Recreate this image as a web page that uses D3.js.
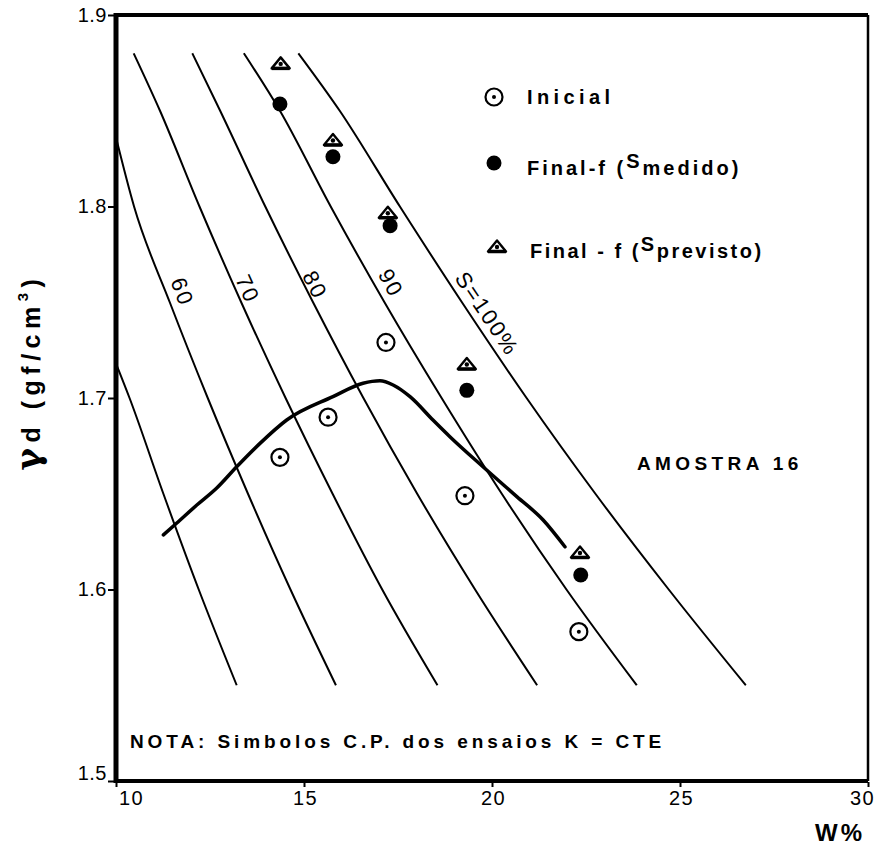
<!DOCTYPE html>
<html>
<head>
<meta charset="utf-8">
<script src="https://cdn.jsdelivr.net/npm/d3@7"></script>
<style>
  html, body { margin: 0; padding: 0; background: #fff; }
  svg { display: block; }
  text { font-family: "Liberation Sans", Arial, sans-serif; font-weight: bold; fill: #000; }
</style>
</head>
<body>
<svg id="chart" width="887" height="849"></svg>
<script>
// ---- Data ----
const xTicks = [10, 15, 20, 25, 30];
const yTicks = [1.5, 1.6, 1.7, 1.8, 1.9];

// Saturation curves: [w %, gamma_d]
const sat50  = [[10.0, 1.718], [10.36, 1.70], [11.26, 1.65], [12.20, 1.60], [13.21, 1.55]];
const sat60  = [[10.0, 1.836], [10.48, 1.80], [11.43, 1.75], [12.44, 1.70], [13.51, 1.65], [14.64, 1.60], [15.85, 1.55]];
const sat70  = [[10.47, 1.88], [11.17, 1.85], [12.22, 1.80], [13.33, 1.75], [14.51, 1.70], [15.76, 1.65], [17.08, 1.60], [18.55, 1.55]];
const sat80  = [[12.03, 1.88], [12.77, 1.85], [13.97, 1.80], [15.24, 1.75], [16.58, 1.70], [18.01, 1.65], [19.55, 1.60], [21.2, 1.55]];
const sat90  = [[13.40, 1.88], [14.36, 1.85], [15.71, 1.80], [17.14, 1.75], [18.66, 1.70], [20.26, 1.65], [21.98, 1.60], [23.85, 1.55]];
const sat100 = [[14.85, 1.88], [15.95, 1.85], [17.55, 1.80], [19.20, 1.75], [20.92, 1.70], [22.75, 1.65], [24.70, 1.60], [26.75, 1.55]];

// Curve labels: [text, w, gamma, rotation deg]
const curveLabels = [
  ["60", 11.76, 1.7554, 70],
  ["70", 13.50, 1.7570, 66],
  ["80", 15.29, 1.7590, 63],
  ["90", 17.31, 1.7600, 61],
  ["S=100%", 19.87, 1.7440, 56]
];

// Compaction curve (thick line)
const compW = [11.26, 11.61, 12.15, 12.68, 13.21, 13.83, 14.54, 15.77, 16.57, 17.02, 17.37, 17.82, 18.43, 18.88, 19.76, 20.66, 21.36, 21.94];
const compG = [1.6285, 1.6346, 1.6441, 1.6530, 1.6641, 1.6763, 1.6885, 1.7007, 1.7077, 1.7090, 1.7068, 1.7007, 1.6885, 1.6798, 1.6641, 1.6485, 1.6363, 1.6223];

// Points
const inicialW  = [14.36, 15.64, 17.18, 19.28, 22.31];
const inicialG  = [1.669, 1.690, 1.729, 1.649, 1.578];
const medidoW   = [14.36, 15.77, 17.29, 19.33, 22.36];
const medidoG   = [1.8535, 1.826, 1.790, 1.704, 1.6076];
const previstoW = [14.38, 15.77, 17.23, 19.33, 22.34];
const previstoG = [1.875, 1.835, 1.797, 1.718, 1.6196];

// ---- Chart ----
const svg = d3.select("#chart");
const L = 116, R = 868, T = 15, B = 781;
const x = d3.scaleLinear().domain([10, 30]).range([L, R]);
const y = d3.scaleLinear().domain([1.5, 1.9]).range([B, T]);

// Saturation curves
const line = d3.line().x(d => x(d[0])).y(d => y(d[1])).curve(d3.curveMonotoneX);
[sat50, sat60, sat70, sat80, sat90, sat100].forEach(c => {
  svg.append("path").attr("d", line(c)).attr("fill", "none")
    .attr("stroke", "#000").attr("stroke-width", 2);
});

// Curve labels
curveLabels.forEach(([t, w, g, r]) => {
  svg.append("text")
    .attr("transform", `translate(${x(w)},${y(g)}) rotate(${r})`)
    .attr("text-anchor", "middle").attr("dominant-baseline", "central")
    .attr("font-size", 22).style("font-weight", "normal")
    .attr("letter-spacing", 2)
    .text(t);
});

// Compaction curve
const comp = compW.map((w, i) => [w, compG[i]]);
svg.append("path")
  .attr("d", d3.line().x(d => x(d[0])).y(d => y(d[1])).curve(d3.curveMonotoneX)(comp))
  .attr("fill", "none").attr("stroke", "#000").attr("stroke-width", 3.5)
  .attr("stroke-linejoin", "round").attr("stroke-linecap", "round");

// Marker helpers
function circleDot(g, cx, cy) {
  g.append("circle").attr("cx", cx).attr("cy", cy).attr("r", 8.5)
    .attr("fill", "#fff").attr("stroke", "#000").attr("stroke-width", 2.2);
  g.append("circle").attr("cx", cx).attr("cy", cy).attr("r", 2).attr("fill", "#000");
}
function filledDot(g, cx, cy) {
  g.append("circle").attr("cx", cx).attr("cy", cy).attr("r", 7.5).attr("fill", "#000");
}
function triangle(g, cx, cy) {
  const w = 9, h = 11;
  g.append("path")
    .attr("d", `M${cx - w},${cy + h / 2} L${cx},${cy - h / 2} L${cx + w},${cy + h / 2} Z`)
    .attr("fill", "#fff").attr("stroke", "#000").attr("stroke-width", 2.4)
    .attr("stroke-linejoin", "round");
  g.append("line").attr("x1", cx - w).attr("x2", cx + w)
    .attr("y1", cy + h / 2).attr("y2", cy + h / 2)
    .attr("stroke", "#000").attr("stroke-width", 3.5);
  g.append("circle").attr("cx", cx).attr("cy", cy + 1).attr("r", 2.2).attr("fill", "#000");
}

const pts = svg.append("g");
inicialW.forEach((w, i) => circleDot(pts, x(w), y(inicialG[i])));
medidoW.forEach((w, i) => filledDot(pts, x(w), y(medidoG[i])));
previstoW.forEach((w, i) => triangle(pts, x(w), y(previstoG[i])));

// Frame
svg.append("line").attr("x1", L).attr("x2", L).attr("y1", T - 2).attr("y2", B + 2)
  .attr("stroke", "#000").attr("stroke-width", 5);
svg.append("line").attr("x1", L).attr("x2", R).attr("y1", T).attr("y2", T)
  .attr("stroke", "#000").attr("stroke-width", 4);
svg.append("line").attr("x1", L).attr("x2", R).attr("y1", B).attr("y2", B)
  .attr("stroke", "#000").attr("stroke-width", 4);
svg.append("line").attr("x1", R).attr("x2", R).attr("y1", T).attr("y2", B)
  .attr("stroke", "#000").attr("stroke-width", 2.5);

// Axes
const yAxis = svg.append("g").attr("transform", `translate(${L - 2},0)`)
  .call(d3.axisLeft(y).tickValues(yTicks).tickFormat(d3.format(".1f")).tickSize(6).tickPadding(1));
yAxis.select(".domain").remove();
yAxis.selectAll("line").attr("stroke", "#000").attr("stroke-width", 2);
yAxis.selectAll("text").attr("font-size", 20).style("font-family", "Liberation Sans, Arial, sans-serif")
  .style("font-weight", "normal").attr("letter-spacing", 0.5);
yAxis.selectAll(".tick").filter(d => d === 1.5).select("text").attr("dy", "-0.1em");

const xAxis = svg.append("g").attr("transform", `translate(0,${B + 1})`)
  .call(d3.axisBottom(x).tickValues(xTicks).tickSize(5).tickPadding(4));
xAxis.select(".domain").remove();
xAxis.selectAll("line").attr("stroke", "#000").attr("stroke-width", 2);
xAxis.selectAll("text").attr("font-size", 20).style("font-family", "Liberation Sans, Arial, sans-serif")
  .style("font-weight", "normal").attr("letter-spacing", 1.5)
  .attr("dx", d => d === 10 ? 15 : (d === 30 ? -6 : 1));

// Axis titles
svg.append("text").attr("x", 840).attr("y", 841).attr("text-anchor", "middle")
  .attr("font-size", 24).attr("letter-spacing", 3).text("W%");

const yt = svg.append("text")
  .attr("transform", `translate(40,372) rotate(-90)`)
  .attr("text-anchor", "middle").attr("font-size", 25).attr("letter-spacing", 5.5);
yt.append("tspan").attr("font-size", 34).style("font-family", "DejaVu Serif, serif").text("γ");
yt.append("tspan").text("d    (gf/cm");
yt.append("tspan").attr("font-size", 15).attr("dy", -12).text("3");
yt.append("tspan").attr("dy", 12).text(")");

// Legend
const lg = svg.append("g");
circleDot(lg, 494, 97);
filledDot(lg, 494, 163);
triangle(lg, 497, 246);
lg.append("text").attr("x", 527).attr("y", 104).attr("font-size", 20).attr("letter-spacing", 4.4).text("Inicial");
const t2 = lg.append("text").attr("x", 527).attr("y", 175).attr("font-size", 20).attr("letter-spacing", 3);
t2.append("tspan").text("Final-f (");
t2.append("tspan").attr("dy", -7).text("S");
t2.append("tspan").attr("dy", 7).text("medido");
t2.append("tspan").text(")");
const t3 = lg.append("text").attr("x", 530).attr("y", 258).attr("font-size", 20).attr("letter-spacing", 2.5);
t3.append("tspan").text("Final - f (");
t3.append("tspan").attr("dy", -7).text("S");
t3.append("tspan").attr("dy", 7).text("previsto");
t3.append("tspan").text(")");

// Annotations
svg.append("text").attr("x", 637).attr("y", 470).attr("font-size", 19).attr("letter-spacing", 4.4)
  .text("AMOSTRA  16");
svg.append("text").attr("x", 130).attr("y", 748).attr("font-size", 19).attr("letter-spacing", 3.9)
  .text("NOTA: Simbolos C.P. dos ensaios K = CTE");
</script>
</body>
</html>
